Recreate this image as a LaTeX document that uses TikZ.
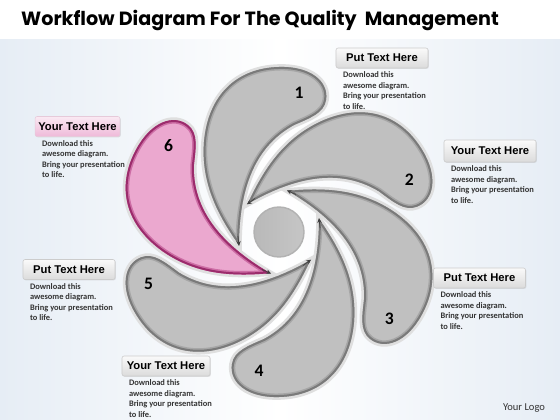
\documentclass[tikz,border=0pt]{standalone}
\usepackage{fontspec}
\setmainfont{Carlito}
\newfontfamily\titlefont{Poppins}
\newfontfamily\boxfont{Liberation Sans}
\usepackage{tikz}
\usetikzlibrary{arrows.meta,positioning,shadows}

\definecolor{bladefill}{HTML}{C0C0C0}
\definecolor{bladeedge}{HTML}{7A7A7A}
\definecolor{bladeband}{HTML}{A6A6A6}
\definecolor{pinkfill}{HTML}{EBA8CF}
\definecolor{pinkedge}{HTML}{9B2C6C}
\definecolor{pinkband}{HTML}{CD6DA5}
\definecolor{bgblue}{HTML}{E6EDF5}
\definecolor{bodytext}{HTML}{333333}

% one blade of the pinwheel, centre of the wheel at the origin (pixel units, y down)
\newcommand{\bladepath}{(-40,13) .. controls (-62,-18) and (-78,-50) .. (-75,-90)
  .. controls (-71,-137) and (-42,-164) .. (0,-165)
  .. controls (32,-166) and (50,-150) .. (47,-132)
  .. controls (45,-119) and (31,-114) .. (15,-107)
  .. controls (-20,-88) and (-40,-50) .. (-40,13) -- cycle}

\begin{document}
\begin{tikzpicture}[x=0.025cm, y=-0.025cm,
  lab/.style={font=\boxfont\bfseries\fontsize{8}{9}\selectfont, rounded corners=1.5pt,
    draw=gray!40, top color=gray!4, bottom color=gray!28, minimum width=2.3cm,
    minimum height=0.5cm, inner sep=0pt,
    drop shadow={opacity=0.2, shadow xshift=0.6pt, shadow yshift=-0.6pt}},
  pinklab/.style={lab, draw=pinkedge!25, top color=pinkfill!25, bottom color=pinkfill!80},
  body/.style={font=\bfseries\fontsize{6}{7.5}\selectfont, text=bodytext, align=left,
    inner sep=0pt, anchor=north west},
  num/.style={font=\bfseries\fontsize{12.5}{12.5}\selectfont},
  tiparr/.style={-{Stealth[length=3.5pt,width=3.2pt]}, line width=0.5pt, draw=black!75}
]
\useasboundingbox (0,0) rectangle (560,420);
\fill[white] (0,0) rectangle (560,420);
\shade[left color=bgblue, right color=bgblue, middle color=white] (0,40) rectangle (560,420);

\node[font=\titlefont\bfseries\fontsize{13.6}{14}\selectfont] (title) at (260,20)
  {Workflow Diagram For The Quality\ \ Management};

% blades
\foreach \k/\bladeF/\bladeE/\bladeB in {1/bladefill/bladeedge/bladeband,
    2/bladefill/bladeedge/bladeband, 3/bladefill/bladeedge/bladeband,
    4/bladefill/bladeedge/bladeband, 5/bladefill/bladeedge/bladeband,
    6/pinkfill/pinkedge/pinkband}{
  \begin{scope}[shift={(279,232)}, rotate=-60*(\k-1)]
    \draw[line width=4pt, gray!25] \bladepath;
    \fill[\bladeF] \bladepath;
    \begin{scope}
      \clip \bladepath;
      \draw[line width=5pt, \bladeB] \bladepath;
      \draw[line width=2.8pt, \bladeE] \bladepath;
    \end{scope}
    \draw[tiparr] (-41,4) -- (-40,14);
    \node[num] (n\k) at (20,-139) {\k};
  \end{scope}
}

\node[circle, minimum size=1.25cm, draw=gray!60, line width=1pt,
  left color=gray!55, middle color=gray!20, right color=gray!45] (hub) at (279,232) {};

% labels
\node[lab] (lab1) at (382,58) {Put Text Here};
\node[pinklab, minimum width=2.12cm] (lab6) at (77.5,126.5) {Your Text Here};
\node[lab, minimum height=0.55cm] (lab2) at (490,151) {Your Text Here};
\node[lab] (lab5) at (69,269.5) {Put Text Here};
\node[lab] (lab3) at (479.5,278) {Put Text Here};
\node[lab, minimum width=2.2cm] (lab4) at (166,366) {Your Text Here};

\foreach \i in {1,...,6}{
  \node[body] (txt\i) at ([xshift=5pt, yshift=-2.2pt]lab\i.south west)
    {Download this\\awesome diagram.\\Bring your presentation\\to life.};
}

\node[font=\fontsize{7.5}{8}\selectfont, text=bodytext] (logo) at (524,408) {Your Logo};
\end{tikzpicture}
\end{document}
